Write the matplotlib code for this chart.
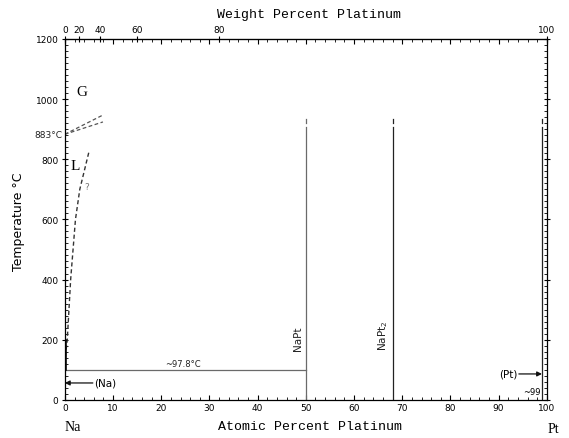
import numpy as np
import matplotlib
matplotlib.use("Agg")
import matplotlib.pyplot as plt
from matplotlib.ticker import MultipleLocator, FixedLocator, NullLocator

# Atomic masses for the weight/atomic percent conversion
M_NA = 22.99
M_PT = 195.08

# Phase boundaries (atomic % Pt, temperature in degC)
eutectic_T = 97.8
eutectic_x = [0.0, 50.0]
compound_x = [50.0, 68.0, 99.0]
compound_labels = ["NaPt", "NaPt$_2$", None]
compound_top = 908.0
compound_cap = [922.0, 934.0]

boil_T = 883.0
gas_upper_x = [0.0, 7.9]
gas_upper_T = [883.0, 947.0]
gas_lower_x = [0.0, 7.9]
gas_lower_T = [883.0, 924.0]

liquidus_x = [0.0, 0.15, 0.5, 1.2, 2.2, 3.1, 5.0]
liquidus_T = [97.8, 150.0, 200.0, 400.0, 600.0, 700.0, 825.0]

na_solvus_T = 56.0
pt_solvus_T = 86.0

top_ticks_wt = [0, 20, 40, 60, 80, 100]


def at_to_wt(a):
    a = np.asarray(a, dtype=float)
    num = a * M_PT
    den = a * M_PT + (100.0 - a) * M_NA
    with np.errstate(divide="ignore", invalid="ignore"):
        return np.where(den == 0, 0.0, 100.0 * num / den)


def wt_to_at(w):
    w = np.asarray(w, dtype=float)
    num = w / M_PT
    den = w / M_PT + (100.0 - w) / M_NA
    with np.errstate(divide="ignore", invalid="ignore"):
        return np.where(den == 0, 0.0, 100.0 * num / den)


fig = plt.figure(figsize=(5.69, 4.39), dpi=100)
ax = fig.add_axes([0.114, 0.087, 0.847, 0.822])
ax.set_xlim(0, 100)
ax.set_ylim(0, 1200)

grey = "#6a6a6a"

# eutectic horizontal
ax.plot(eutectic_x, [eutectic_T, eutectic_T], color=grey, lw=0.9)
ax.text(24.5, eutectic_T + 8, "~97.8\u00b0C", fontsize=6, ha="center", va="bottom",
        color="#222222")

# compounds
for xc, lab in zip(compound_x, compound_labels):
    c = grey if xc == 50.0 else "#222222"
    ax.plot([xc, xc], [0, compound_top], color=c, lw=0.9)
    ax.plot([xc, xc], compound_cap, color=c, lw=0.9)
    if lab:
        ax.text(xc - 0.6, 165, lab, rotation=90, fontsize=7.5, ha="right", va="bottom",
                color="#222222")

# boiling point and gas boundaries
ax.plot(gas_upper_x, gas_upper_T, ls=(0, (3, 2)), color="#555555", lw=0.9)
ax.plot(gas_lower_x, gas_lower_T, ls=(0, (3, 2)), color="#555555", lw=0.9)
ax.text(-0.5, boil_T, "883\u00b0C", fontsize=6.5, ha="right", va="center", color="#222222")

# liquidus
ax.plot(liquidus_x, liquidus_T, ls=(0, (3, 2)), color="#333333", lw=1.0)
ax.plot([0.15, 0.15], [eutectic_T, 200], color="#111111", lw=1.2)
ax.text(4.6, 708, "?", fontsize=6.5, color="#777777", ha="center", va="center")

# phase labels
ax.text(3.5, 1024, "G", fontsize=11, family="Liberation Serif", ha="center", va="center")
ax.text(2.1, 778, "L", fontsize=11, family="Liberation Serif", ha="center", va="center")

# terminal solid solutions
ax.annotate("", xy=(0.0, na_solvus_T), xytext=(5.8, na_solvus_T),
            arrowprops=dict(arrowstyle="-|>", color="#111111", lw=0.9,
                            mutation_scale=7, shrinkA=0, shrinkB=0))
ax.text(6.0, na_solvus_T, "(Na)", fontsize=7.5, ha="left", va="center")
ax.annotate("", xy=(99.0, pt_solvus_T), xytext=(94.2, pt_solvus_T),
            arrowprops=dict(arrowstyle="-|>", color="#111111", lw=0.9,
                            mutation_scale=7, shrinkA=0, shrinkB=0))
ax.text(94.0, pt_solvus_T, "(Pt)", fontsize=7.5, ha="right", va="center")
ax.text(96.8, 28, "~99", fontsize=6, ha="center", va="center")

# ticks on the main axes (mirrored on top and right)
ax.xaxis.set_major_locator(MultipleLocator(10))
ax.xaxis.set_minor_locator(MultipleLocator(2))
ax.yaxis.set_major_locator(MultipleLocator(200))
ax.yaxis.set_minor_locator(MultipleLocator(20))
ax.tick_params(axis="both", which="major", direction="inout", length=5, width=0.8,
               labelsize=6.5, pad=2)
ax.tick_params(axis="both", which="minor", direction="in", length=2.5, width=0.6)
ax.tick_params(axis="both", which="both", right=True, top=True)
ax.tick_params(axis="x", which="major", top=True, direction="in", length=3.5)
for s in ax.spines.values():
    s.set_linewidth(0.9)

# weight percent axis on top
sec = ax.secondary_xaxis("top", functions=(at_to_wt, wt_to_at))
sec.xaxis.set_major_locator(FixedLocator(top_ticks_wt))
sec.xaxis.set_minor_locator(NullLocator())
sec.tick_params(which="major", direction="inout", length=5, width=0.8, labelsize=6.5, pad=1)

# axis titles
fig.text(0.033, 0.495, "Temperature \u00b0C", rotation=90, fontsize=9,
         ha="center", va="center")
fig.text(0.543, 0.965, "Weight Percent Platinum", family="Liberation Mono",
         fontsize=9.5, ha="center", va="center")
fig.text(0.545, 0.027, "Atomic Percent Platinum", family="Liberation Mono",
         fontsize=9.5, ha="center", va="center")
fig.text(0.128, 0.027, "Na", family="Liberation Serif", fontsize=10, ha="center", va="center")
fig.text(0.972, 0.022, "Pt", family="Liberation Serif", fontsize=10, ha="center", va="center")

fig.savefig("out.png", dpi=100)
